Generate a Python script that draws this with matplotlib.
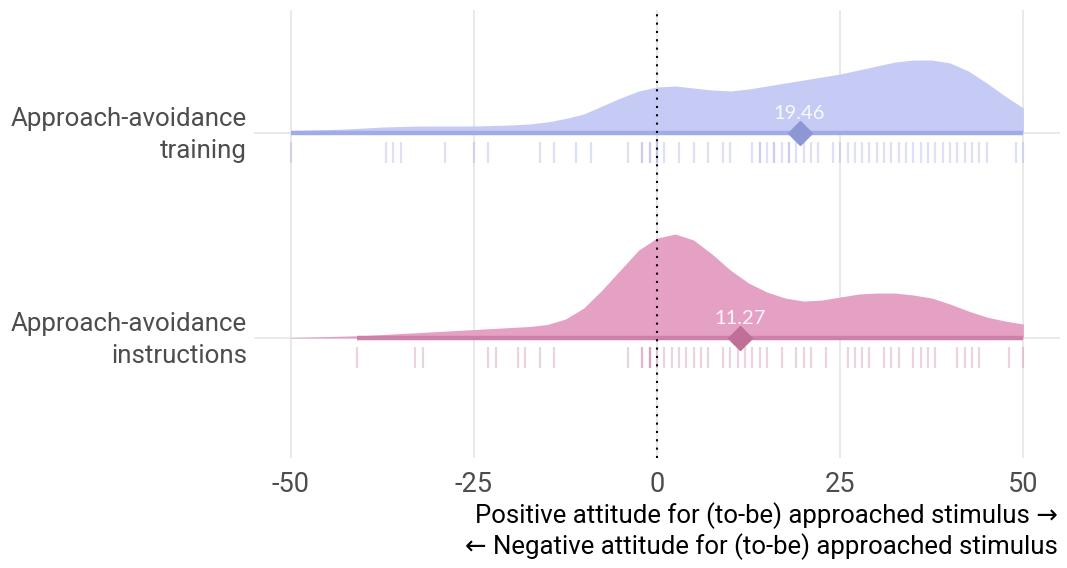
import matplotlib
matplotlib.use("Agg")
import matplotlib.pyplot as plt
import matplotlib.transforms as mtransforms
import numpy as np

# ---------------- data ----------------
groups = ["Approach-avoidance\ninstructions", "Approach-avoidance\ntraining"]

density_x = [-50, -47.5, -45, -42.5, -40, -37.5, -35, -32.5, -30, -27.5, -25, -22.5,
             -20, -17.5, -15, -12.5, -10, -7.5, -5, -2.5, 0, 2.5, 5, 7.5, 10, 12.5,
             15, 17.5, 20, 22.5, 25, 27.5, 30, 32.5, 35, 37.5, 40, 42.5, 45, 47.5, 50]

# relative density (slab height)
density_training = [2.5, 3, 3.5, 4, 5, 6, 6.5, 7, 7, 7, 7, 7.5,
                    8, 9, 11, 14.5, 19, 27, 35, 42, 46, 47, 45, 43, 42, 44,
                    47, 50, 53, 56, 59, 63, 67, 71, 73, 73, 70, 62, 50, 37, 25]
density_instructions = [0.5, 1, 1.5, 2, 2.5, 3.5, 4.5, 5.5, 6.5, 7.5, 8.5, 9.5,
                        10.5, 11.5, 13.5, 19, 30, 48, 68, 88, 100, 104, 98, 84, 68, 55,
                        46, 40, 37, 38, 41, 44, 45, 45, 43, 40, 34, 27, 21, 17, 14]

rug_training = [-50, -37, -36, -35, -29, -25, -23, -16, -14, -11, -9, -4, -2, -1, 0,
                -2, -1, 0, 1, 3, 5, 7, 9, 10, 13, 14, 14, 15, 16, 16, 17, 18, 18, 19,
                20, 21, 22, 24, 25, 26, 27, 28, 29, 30, 31, 32, 33, 34, 35, 36, 37,
                38, 39, 40, 41, 42, 43, 44, 45, 49, 50]
rug_instructions = [-41, -33, -32, -23, -22, -19, -18, -16, -14, -4, -2, -1, -1,
                    -2, -1, 0, 1, 2, 3, 4, 5, 6, 7, 9, 10, 11, 12, 13, 14, 15, 17,
                    19, 20, 21, 23, 26, 27, 28, 29, 31, 32, 33, 35, 36, 37, 38, 41,
                    42, 43, 44, 48, 50]

mean_training = 19.46
mean_instructions = 11.27
range_training = (-50, 50)
range_instructions = (-41, 50)

xticks = [-50, -25, 0, 25, 50]

# ---------------- style ----------------
fill_tr, line_tr, pt_tr = "#c5cbf5", "#a2abe6", "#8c97d4"
fill_in, line_in, pt_in = "#e5a1c4", "#cd80a8", "#bf6f98"
txt_col = "#4d4d4d"
grid_col = "#e3e3e3"
px_per_unit = 205.0   # vertical pixels between the two baselines

fig = plt.figure(figsize=(10.67, 5.68), dpi=100)
ax = fig.add_axes([254/1067, 1-458/568, (1060-254)/1067, 448/568])
ax.set_xlim(-55, 55)
ax.set_ylim(0.415, 2.6)

for xt in xticks:
    ax.axvline(xt, color=grid_col, lw=1.1, zorder=0)
for yb in (1, 2):
    ax.axhline(yb, color=grid_col, lw=1.1, zorder=0)

sets = [
    (2, density_training, rug_training, mean_training, range_training, fill_tr, line_tr, pt_tr),
    (1, density_instructions, rug_instructions, mean_instructions, range_instructions, fill_in, line_in, pt_in),
]
for yb, dens, rug, mean, rng, fc, lc, pc in sets:
    d = np.asarray(dens) / px_per_unit
    ax.fill_between(density_x, yb, yb + d, color=fc, lw=0, zorder=2)
    ax.plot(rng, [yb, yb], color=lc, lw=3.2, solid_capstyle="butt", zorder=3)
    ax.vlines(rug, yb - 0.145, yb - 0.045, color=lc, alpha=0.35, lw=1.6, zorder=2)
    ax.plot([mean], [yb], marker="D", ms=12, color=pc, mec=pc, zorder=5)
    ax.text(mean, yb + 0.095, f"{mean:.2f}", color="white", alpha=0.9,
            family=["Lato", "DejaVu Sans"], fontsize=14.5, ha="center", va="center", zorder=6)

ax.axvline(0, color="black", lw=1.5, ls=(0, (1, 3)), zorder=4)

for s in ax.spines.values():
    s.set_visible(False)

ax.set_xticks(xticks)
ax.set_xticklabels([str(t) for t in xticks])
ax.set_yticks([1, 2])
ax.set_yticklabels(groups, multialignment="right")
ax.tick_params(length=0, labelsize=19.5, labelcolor=txt_col)
ax.tick_params(axis="x", pad=9)
ax.tick_params(axis="y", pad=5, labelsize=18.6)
shift_up = mtransforms.ScaledTranslation(0, 3/72, fig.dpi_scale_trans)
for lab in ax.get_xticklabels():
    lab.set_family(["Roboto", "DejaVu Sans"])
for lab in ax.get_yticklabels():
    lab.set_family(["Roboto", "DejaVu Sans"])
    lab.set_linespacing(1.38)
    lab.set_transform(lab.get_transform() + shift_up)

fig.text(1058/1067, 1-531/568,
         "Positive attitude for (to-be) approached stimulus \u2192\n"
         "\u2190 Negative attitude for (to-be) approached stimulus",
         ha="right", va="center", multialignment="right", fontsize=18.5,
         color="black", family=["Roboto", "DejaVu Sans"], linespacing=1.22)

fig.savefig("out.png", dpi=100)
